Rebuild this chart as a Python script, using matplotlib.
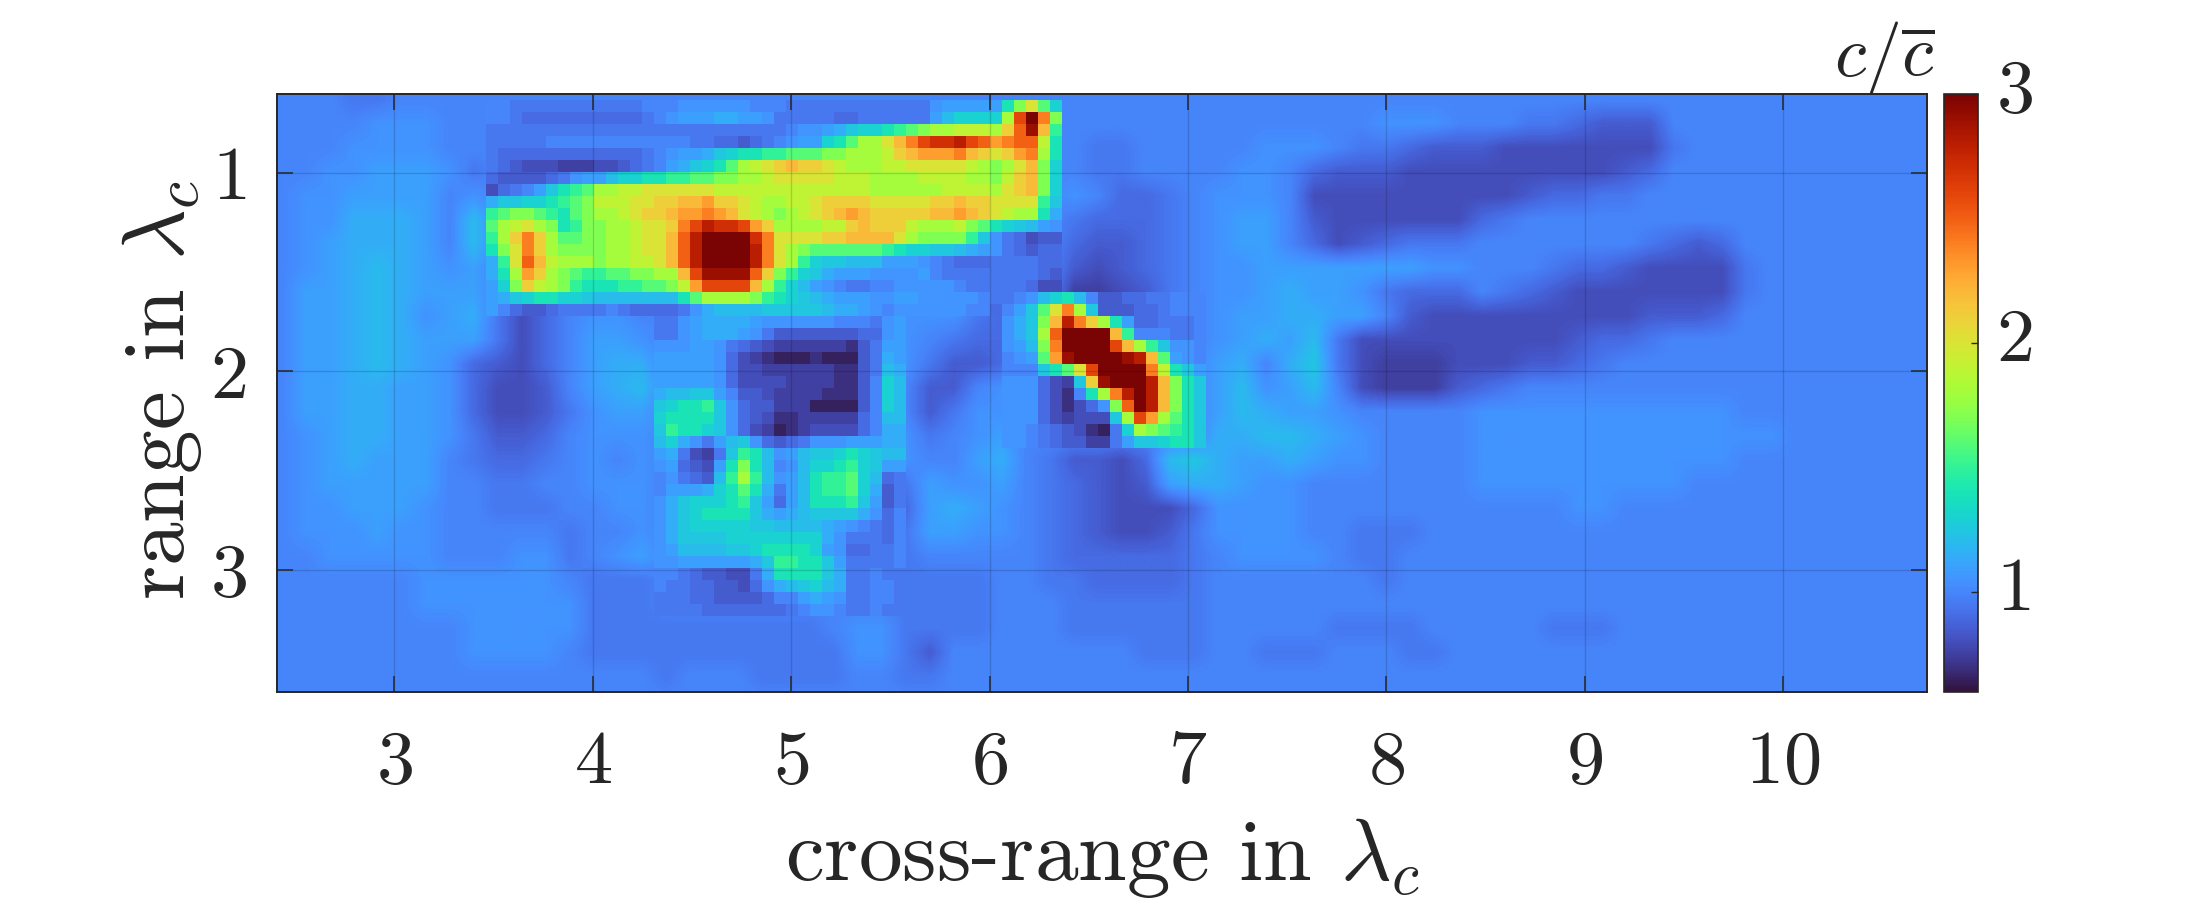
import numpy as np
import matplotlib
matplotlib.use("Agg")
import matplotlib.pyplot as plt
from matplotlib.transforms import ScaledTranslation

plt.rcParams['mathtext.fontset'] = 'cm'
plt.rcParams['font.family'] = ['cmr10', 'DejaVu Serif']
plt.rcParams['axes.formatter.use_mathtext'] = True

INK = '#262626'
XTICKS = [3, 4, 5, 6, 7, 8, 9, 10]
YTICKS = [1, 2, 3]
CBAR_TICKS = [1, 2, 3]
VMIN, VMAX = 0.6, 3.0

# each letter of a row is one cell value of c/c-bar
LEVEL_CHARS = "abcdefghijklmnopqrstuvwxyzABCDEF"
LEVEL_VALUES = [.60, .65, .70, .75, .80, .85, .90, .95, 1.00, 1.05, 1.10, 1.15, 1.20, 1.25, 1.30, 1.40,
                1.50, 1.60, 1.70, 1.80, 1.90, 2.00, 2.10, 2.20, 2.30, 2.40, 2.50, 2.60, 2.70, 2.80, 2.90, 3.00]

# whole map, read at double cell size
MAP_COARSE = [
 "iiihhiiii iiiiiii iiiiiiiiii iiiii iiiiiiii iiiiiiiiiii iiiiiiiiii iiiiiiiiii",
 "iiiijjjii iiiiiii iiiiiiiiii iiiii iiiiiiii iiiiiiijjji iihhgfffii iiiiiiiiii",
 "iiijjjjii iiiiiii iiiiiiiiii iiiii iiihhiii iijjjihhgff feeeeeeehi iiiiiiiiii",
 "iijjkkkjh iiiiiii iiiiiiiiii iiiii iiihhiii ijjigfffeee eeeeeefgii iiiiiiiiii",
 "ijjkkkkij iiiiiii iiiiiiiiii iiiii iijigghi jjjieeeeeee eefgghhiii iiiiiiiiii",
 "ijjlllkim iiiiiii iiiiiiiiii iiiii iihggghi jkkifeeeeee ghiiiiiiii iiiiiiiiii",
 "ijklllkim iiiiiii iiiiiiiiii iiiii iigffghi jkkigefghhh iiiiiiihgf giiiiiiiii",
 "ijklmlkjk iiiiiii iiiiiiiiii iiiii iifefghi jjkkkkkkkjj iiihggfeee ehiiiiiiii",
 "ikklmlkkk iiiiiii iiiiiiiiii iiiii iiddefhi jjklkkjhggg ihgfeeeeee ehiiiiiiii",
 "ikklmljkl hegijji iiiiiiiiii jjjhg iiiiiiii jkkllkkifee eeeeeeefff giiiiiiiii",
 "ikklmlkkk hegikkj iiiiiiiiii jihgg iiiiiiii jklkmheeeee eeeefgghii iiiiiiiiii",
 "ikklmlkjg fegikll iiiiiiiiii jhffg iiiiiiii klilnheddde eeffghiiii iiiiiiiiii",
 "ikkllkkjg eefiklm iiiiiiiiii iffij iiiiiiii kmjkmiedddf ghiiiiiiii iiiiiiiiii",
 "ikkllkkjg eefhjkk iiiiiiiiii ifhjj iiiiiiii kmlkkjiiiii jjjjjjjjjj jiiiiiiiii",
 "ijkllkkjh ffgijjj iiiiiiiiii jhijk iiiiiiii llmmlkjiiii jjjjjjjjjj jjjiiiiiii",
 "ijklkkkih gghijij iiiiiiiiii jiikl ihffegmn lkklkjjiiii jjjjjjjjjj jiiiiiiiii",
 "ijkkkkkii hhiijjj iiiiiiiiii hkjjk ihgfefkl lkjjiiiiiii jjjjjjjjji iiiiiiiiii",
 "ijjkkkjii hhhiijj iiiiiiiiii gklkj ihgfeeeg jjjjiiiiiii iiiijjiiii iiiiiiiiii",
 "ijjjkjjii iiihiij iiiiiiiiii hkkjj ihgfeefh jjjjiihhhii iiiiiiiiii iiiiiiiiii",
 "iijjjjjii ijjhijk iiiiiiiiii hiiii ihgggggh ijjjjihhiii iiiiiiiiii iiiiiiiiii",
 "iiiiiijjj jjjihhh iiiiiiiiii hhhhi ihhggggh iiiiiiihiii iiiiiiiiii iiiiiiiiii",
 "iiiiiijjj jjjjhhh iiiiiiiiii hhhhi iihhhhhh iiiiiiiiiii iiiiiiiiii iiiiiiiiii",
 "iiiiiiiij jjjjhhh hhhhhhhijj hhhhi iihhhhhh iiiiihhhhii iiihhhiiii iiiiiiiiii",
 "iiiiiiiij jjjihhh hhhhhhhhjj hfiii iiiiihhh iihhhiiihhi iiiiiiiiii iiiiiiiiii",
 "iiiiiiiii iiiiiii hiiihhhhii hhiii iiiiiiii iiiiiiiiiii iiiiiiiiii iiiiiiiiii",
 "iiiiiiiii iiiiiii iiiiiiiiii iiiii iiiiiiii iiiiiiiiiii iiiiiiiiii iiiiiiiiii",
]

# upper-left high-speed band, full cell size
BAND_COL, BAND_ROW = 18, 1
BAND_ROWS = [
 "iihhhhhhhhhhhiiijjjjjjiiihhhhhhh hhhhhjkkkkkpsvro",
 "iihgggggggggghijkkkllkkjhhhhhggh hhhhhkmoooo tBFzs",
 "hhhhhhhhhhhhhhhhhhhhhhhhhijjklno opqrsttuuutwAExq",
 "hhhhhiiiiiiiiiiiihhggfghijkkoprt tvxzBCCDBAyzAAup",
 "hgggggggggggghijkklnoppqqrrrsstt tuwxyyyzxwvwyztp",
 "hgfeeedddeefghiklnoprtuvwxwwvutt tuuvvvvvutstvxso",
 "gffffghjkkmooppqqrrssttuvvvvvuuu ttttuuuuttsuwxso",
 "eghiknpqrttuuvvvvvvuuuuuuuuuuuuu ttttttuuuutvwxso",
 "lnnoopqrsuuuvvwwxxywwvuttuuvwwww vvvvvwwxwwvvvvqn",
 "qrssrqprsttuvwwxyyzyxvutstuvwxyx wwwwwxxyxwvuttpl",
 "rtuvtspqssttuvvwzBDCCBywttttuuwx wwwutttusrponmkj",
 "qtwzwtrrssttuvvxADFFFFCzvvvvwwxx xxvtssssqnjhgeff",
 "psvzwtssssttuvvxADFFFFDzvtsrrrrr rqpoonnmlkjhgfgg",
 "lqvAxutttsttuuvxADFFFFDzvtqonnmm mkkkjihggghhhhgg",
 "lptywtsrqqrrssttxBEEEEAwsqonlkkk jjjjkihhhhhhhhgf",
 "koswutsqpppqqrrsuyBBBBxtqomkjihh iijjjjjihhhhhgee",
 "klnoppoonmmmmmmmprttttsqponmlkkk jjkkjjjjjihhijmo",
 "kigffghhhhihgggghjlmmmmnnnnnmllk jijjjjjjiigiknrv",
]

# diagonal high-speed inclusion, full cell size
DIAG_COL, DIAG_ROW = 61, 17
DIAG_ROWS = [
 "hijmopmiffgghhiii",
 "iknrvztnfffgghiii",
 "jlnsxDzwtpkgghhhi",
 "jlntAFFFFxqiiihhi",
 "jkmszFFFFBxtqnjji",
 "ijkryEFFFFEDxrkji",
 "iiinprvBFFFFzupnk",
 "jjjgednwEFFFDxspn",
 "jjjgeciptzDFDxspn",
 "jjjgecegjsAFDxspn",
 "jjjgedeeentBytrpn",
 "jjihgfecbhotsrqpn",
 "jjihgffddhknnoppn",
]

# central low- and medium-speed blocks, full cell size
CORE_COL, CORE_ROW = 32, 19
CORE_ROWS = [
 "hhjkllllkjjjjjjiiihjk",
 "hhjklllkjhfffffffggjk",
 "jjjkkjhgfeddddddcfhkk",
 "kkkkkjgedcbbbcbbbfhlk",
 "kkkkkjgeeddddddccfhml",
 "kkkkkjgeeeeddddccfiom",
 "lmmnnkiffeddddcccfiom",
 "noppqnjgffdddbbbbfiom",
 "oppppnjgfeccdddddgimm",
 "nqpponjgedbcdeeeegill",
 "moljhkmnjgfghjjjkkkll",
 "klhedhnqpmjkmnnoponmm",
 "jkgfekpspmijmoopqonkk",
 "ijhgfmqtqmjkmpqqromgh",
 "ikkkloprplhkmpqqrolfh",
 "jlnooopqnkgkmpppqnkfh",
 "jlnoppppnlklmnnnnljgi",
 "jlnooooonnmmmmlkjihgi",
 "jlnnnnooooooooljhhhgi",
 "jkmmmmnnoppppokjgghhi",
 "jjkkkkkklnqqppnkhhhhi",
 "iihgffeehlppppnlhhihh",
 "ihhggffegjlmnomlhhiih",
 "hhhggffffgiiklkjhhiih",
 "hhhhggggggghijjihhihh",
]

CELL = 0.0605
X_ORIGIN, Y_ORIGIN = 2.374, 0.5715
XLIM = (2.41, 10.725)
YLIM = (3.615, 0.604)


def decode(rows):
    table = dict(zip(LEVEL_CHARS, LEVEL_VALUES))
    clean = [r.replace(' ', '') for r in rows]
    width = max(len(r) for r in clean)
    return np.array([[table[c] for c in r.ljust(width, 'i')] for r in clean])


def draw(ax, rows, col, row):
    values = decode(rows)
    ny, nx = values.shape
    xe = X_ORIGIN + CELL * (col + np.arange(nx + 1))
    ye = Y_ORIGIN + CELL * (row + np.arange(ny + 1))
    return ax.pcolormesh(xe, ye, values, cmap='turbo', vmin=VMIN, vmax=VMAX,
                         antialiased=False, linewidth=0, zorder=1)


W, H = 2209, 906
fig = plt.figure(figsize=(W / 100, H / 100), dpi=100, facecolor='white')
ax = fig.add_axes([277.3 / W, 1 - 692 / H, (1927 - 277.3) / W, (692 - 94.4) / H])

coarse = decode(MAP_COARSE)
ax.imshow(coarse, cmap='turbo', vmin=VMIN, vmax=VMAX, aspect='auto', origin='upper',
          interpolation='bilinear', interpolation_stage='data', zorder=0.5,
          extent=[X_ORIGIN, X_ORIGIN + 2 * CELL * coarse.shape[1],
                  Y_ORIGIN + 2 * CELL * coarse.shape[0], Y_ORIGIN])
draw(ax, BAND_ROWS, BAND_COL, BAND_ROW)
mesh = draw(ax, DIAG_ROWS, DIAG_COL, DIAG_ROW)
draw(ax, CORE_ROWS, CORE_COL, CORE_ROW)

ax.set_xlim(*XLIM)
ax.set_ylim(*YLIM)
ax.set_xticks(XTICKS)
ax.set_yticks(YTICKS)
ax.set_axisbelow(False)
ax.grid(True, color='black', alpha=0.15, linewidth=1.0)
ax.tick_params(direction='in', length=11.5, width=1.1, color=INK, labelcolor=INK,
               labelsize=55, top=True, right=True)
ax.tick_params(axis='x', pad=28)
ax.tick_params(axis='y', pad=22)
for s in ax.spines.values():
    s.set_edgecolor(INK)
    s.set_linewidth(1.4)

cax = fig.add_axes([1944 / W, 1 - 692 / H, (1978 - 1944) / W, (692 - 94.4) / H])
cb = fig.colorbar(mesh, cax=cax, ticks=CBAR_TICKS)
cb.ax.tick_params(direction='in', length=5, width=1.0, color=INK, labelcolor=INK,
                  labelsize=55, pad=13)
cb.outline.set_edgecolor(INK)
cb.outline.set_linewidth(1.2)
lift = ScaledTranslation(0, 6 / 72, fig.dpi_scale_trans)
for tick in cb.ax.yaxis.get_major_ticks():
    tick.label2.set_transform(tick.label2.get_transform() + lift)

fig.text(1102 / W, 1 - 880 / H, r'cross-range in $\lambda_c$', ha='center', va='baseline',
         fontsize=63, color=INK)
fig.text(162 / W, 1 - 390 / H, r'range in $\lambda_c$', ha='center', va='center', rotation=90,
         fontsize=63, color=INK)
fig.text(1884 / W, 1 - 76 / H, r'$c/\overline{c}$', ha='center', va='baseline',
         fontsize=52, color=INK)

fig.savefig('out.png', dpi=100)
